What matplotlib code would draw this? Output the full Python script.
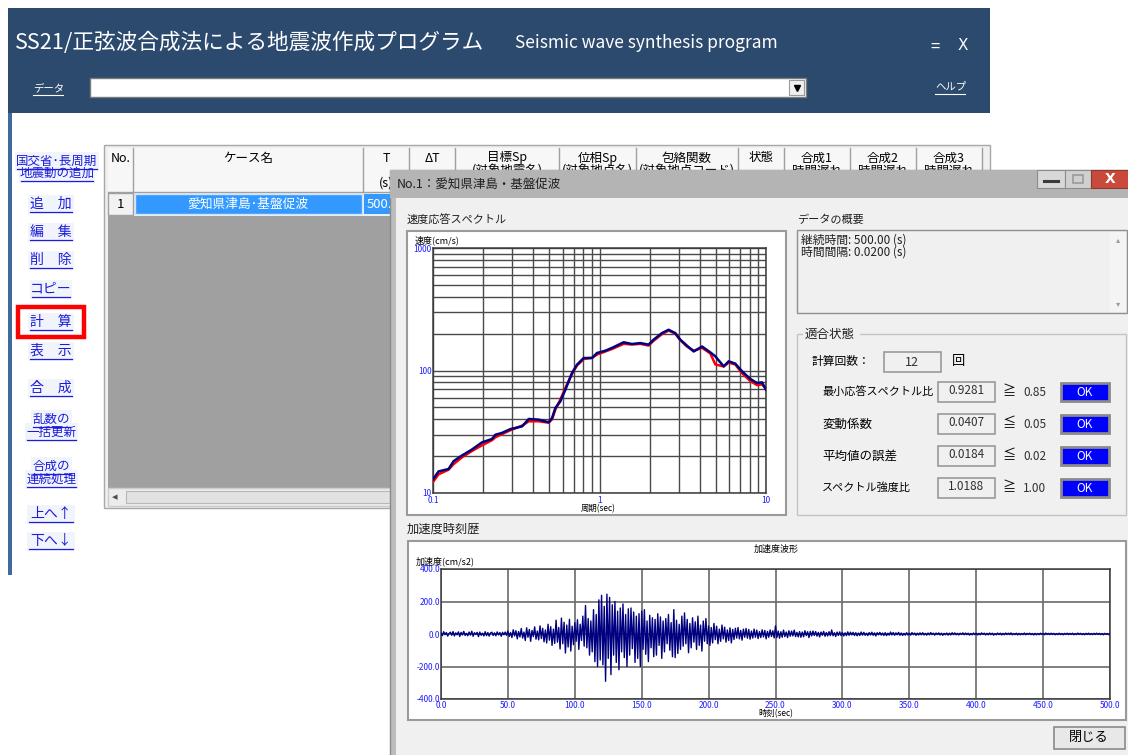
import numpy as np
import matplotlib.pyplot as plt
from matplotlib.patches import Rectangle
from matplotlib.ticker import NullFormatter

plt.rcParams['font.family'] = ['Noto Sans CJK JP', 'DejaVu Sans']

W, H = 1128, 755

# 速度応答スペクトル: 周期 (sec) と速度 (cm/s)
periods = [0.1, 0.108, 0.124, 0.133, 0.149, 0.171, 0.197, 0.226, 0.237, 0.259,
           0.291, 0.343, 0.376, 0.431, 0.495, 0.519, 0.543, 0.582, 0.624, 0.684,
           0.733, 0.804, 0.902, 0.966, 1.084, 1.19, 1.397, 1.567, 1.758, 1.972,
           2.113, 2.371, 2.6, 2.851, 3.055, 3.35, 3.68, 4.13, 4.63, 4.96,
           5.57, 5.97, 6.54, 7.18, 8.05, 8.83, 9.46, 10]
sv_target = [12.3, 14.2, 15.5, 17.2, 19.5, 22, 24.5, 27, 28.5, 30.2,
             32.5, 35.5, 38.5, 38.5, 37.5, 40, 48, 58, 72, 94,
             110, 124, 127, 135, 143, 150, 165, 163, 165, 160,
             175, 198, 212, 200, 177, 157, 145, 153, 138, 112,
             108, 116, 112, 95, 82, 76, 77, 71]
sv_synth = [12.9, 15, 15.7, 18.2, 20.2, 22.6, 25.9, 27.6, 29.9, 30.9,
            33.2, 35, 40.2, 39.7, 37.8, 40.9, 49.4, 56, 69.8, 95.5,
            111.7, 126.5, 126.5, 139, 145, 153, 170, 164.5, 167.5, 162.5,
            178.6, 202, 215, 202, 178.6, 159.6, 143, 157, 140.6, 130.6,
            108, 118.8, 113.8, 98.4, 85.3, 79, 80, 69.8]

# 加速度波形: 1秒ごとの読み取りピーク値 (cm/s2)
acc_dt = 1.0
acc_peaks = [6, -10, 14, -4, 9, -13, 3, 11, -8, 15,
             -12, 7, -5, 13, -15, 10, -6, 16, -9, 4,
             -11, 12, -7, 17, -14, 8, -3, 10, -16, 12,
             -8, 5, -12, 14, -10, 9, -13, 6, 11, -9,
             7, -11, 13, -6, 9, -14, 10, -5, 12, -8,
             18, -15, 9, -22, 26, -12, 20, -30, 15, -18,
             34, -25, 12, -40, 38, -20, 28, -45, 22, -16,
             44, -32, 18, -36, 50, -28, 35, -48, 25, -55,
             60, -38, 45, -70, 30, -58, 85, -50, 40, -92,
             98, -60, 72, -117, 55, -80, 90, -105, 48, -66,
             70, -45, 88, -95, 60, -40, 110, -75, 175, -85,
             95, -130, 80, -110, 150, -170, 120, -200, 210, -160,
             238, -190, 170, -291, 245, -150, 225, -250, 180, -130,
             200, -175, 140, -220, 160, -110, 185, -145, 120, -200,
             155, -130, 160, -90, 135, -175, 110, -150, 125, -200,
             140, -95, 150, -125, 80, -170, 115, -85, 100, -140,
             90, -130, 125, -70, 105, -150, 80, -110, 95, -60,
             120, -100, 70, -140, 150, -145, 85, -120, 60, -95,
             110, -75, 130, -60, 90, -115, 65, -85, 100, -50,
             75, -95, 110, -70, 55, -105, 80, -45, 95, -60,
             50, -70, 40, -55, 65, -35, 48, -60, 30, -45,
             55, -30, 42, -50, 25, -40, 38, -55, 28, -34,
             35, -25, 40, -30, 22, -38, 30, -20, 34, -26,
             28, -32, 18, -25, 30, -20, 24, -28, 15, -22,
             26, -18, 22, -30, 16, -20, 25, -15, 20, -24,
             50, -22, 18, -26, 14, -20, 24, -16, 12, -22,
             20, -14, 18, -12, 24, -16, 10, -18, 15, -20,
             12, -17, 20, -10, 14, -22, 16, -12, 18, -9,
             15, -13, 10, -18, 12, -8, 16, -14, 9, -12,
             14, -10, 25, -11, 8, -15, 12, -9, 13, -10,
             9, -12, 7, -10, 13, -8, 11, -6, 10, -9,
             8, -11, 6, -9, 12, -7, 10, -8, 5, -10,
             9, -6, 11, -8, 7, -12, 8, -5, 10, -7,
             6, -9, 8, -10, 5, -7, 12, -6, 9, -8,
             7, -5, 10, -8, 6, -9, 4, -7, 8, -6,
             5, -7, 9, -4, 6, -8, 5, -6, 7, -5,
             8, -6, 4, -7, 6, -5, 9, -4, 5, -7,
             6, -4, 7, -6, 5, -8, 4, -5, 6, -7,
             5, -6, 8, -4, 7, -5, 4, -6, 5, -3,
             7, -5, 6, -4, 5, -7, 3, -5, 6, -4,
             5, -6, 4, -5, 7, -3, 5, -6, 4, -5,
             6, -4, 5, -7, 3, -5, 6, -4, 5, -6,
             4, -5, 6, -3, 5, -4, 7, -5, 3, -4,
             5, -6, 4, -5, 3, -4, 6, -5, 4, -3,
             5, -4, 3, -6, 4, -5, 3, -4, 5, -3,
             4, -5, 6, -3, 4, -4, 5, -3, 4, -5,
             3, -4, 5, -4, 3, -5, 4, -3, 5, -4,
             4, -3, 5, -5, 3, -4, 6, -3, 4, -4,
             3, -5, 4, -3, 5, -4, 3, -4, 4, -3,
             5, -3, 4, -4, 3, -5, 4, -3, 3, -4,
             2]

spec_xticks = [0.1, 1, 10]
spec_xlabels = ['0.1', '1', '10']
spec_yticks = [10, 100, 1000]
spec_ylabels = ['10', '100', '1000']
acc_xticks = [0, 50, 100, 150, 200, 250, 300, 350, 400, 450, 500]
acc_yticks = [-400, -200, 0, 200, 400]

# 左メニュー: (行テキスト, y, 下線 x0, x1, 文字サイズ)
menu_items = [
    ('国交省･長周期', 161, 17, 97, 9), ('地震動の追加', 173, 21, 93, 9),
    ('追　加', 204, 30, 72, 10), ('編　集', 232, 30, 72, 10),
    ('削　除', 260, 30, 72, 10), ('コピー', 289, 32, 70, 10),
    ('計　算', 322, 30, 72, 10), ('表　示', 351, 30, 72, 10),
    ('合　成', 388, 30, 72, 10),
    ('乱数の', 419, 33, 70, 9), ('一括更新', 432, 27, 76, 9),
    ('合成の', 466, 33, 70, 9), ('連続処理', 479, 27, 76, 9),
    ('上へ↑', 514, 29, 73, 10), ('下へ↓', 541, 29, 73, 10),
]

table_cols = [('No.', '', 108, 133), ('ケース名', '', 133, 363), ('T', '(s)', 363, 409),
              ('ΔT', '', 409, 455), ('目標Sp', '(対象地震名)', 455, 559),
              ('位相Sp', '(対象地点名)', 559, 636), ('包絡関数', '(対象地点コード)', 636, 738),
              ('状態', '', 738, 784), ('合成1', '時間遅れ', 784, 850),
              ('合成2', '時間遅れ', 850, 916), ('合成3', '時間遅れ', 916, 982)]

case_name = '愛知県津島･基盤促波'
summary_lines = ['継続時間: 500.00 (s)', '時間間隔: 0.0200 (s)']
calc_count = '12'
check_rows = [('最小応答スペクトル比', '0.9281', '≧', '0.85', 8),
              ('変動係数', '0.0407', '≦', '0.05', 9),
              ('平均値の誤差', '0.0184', '≦', '0.02', 9),
              ('スペクトル強度比', '1.0188', '≧', '1.00', 8)]
check_y = [392, 424, 456, 488]

fig = plt.figure(figsize=(W / 100, H / 100), dpi=100)
fig.patch.set_facecolor('white')
ui = fig.add_axes([0, 0, 1, 1])
ui.set_xlim(0, W)
ui.set_ylim(H, 0)
ui.axis('off')


def box(x0, y0, x1, y1, fc, ec='none', lw=1.0, z=1):
    ui.add_patch(Rectangle((x0, y0), x1 - x0, y1 - y0, facecolor=fc,
                           edgecolor=ec, linewidth=lw, zorder=z))


def px_axes(x0, y0, x1, y1):
    return fig.add_axes([x0 / W, 1 - y1 / H, (x1 - x0) / W, (y1 - y0) / H])


# ---- メインウィンドウ ----
box(8, 8, 990, 113, '#2c4a6e')
box(8, 113, 12, 575, '#3f6a9c')
ui.text(15, 43, 'SS21/正弦波合成法による地震波作成プログラム', color='white',
        fontsize=15.6, va='center', zorder=2)
ui.text(515, 43, 'Seismic wave synthesis program', color='white',
        fontsize=12.5, va='center', zorder=2)
ui.text(935, 47, '=', color='white', fontsize=12, va='center', ha='center', zorder=2)
ui.text(963, 46, 'X', color='white', fontsize=11, va='center', ha='center', zorder=2,
        family='DejaVu Sans')
ui.text(33, 88, 'データ', color='white', fontsize=7.5, va='center', zorder=2)
ui.plot([33, 63], [95, 95], color='white', lw=0.8, zorder=2)
ui.text(935, 87, 'ヘルプ', color='white', fontsize=7.5, va='center', zorder=2)
ui.plot([935, 965], [94, 94], color='white', lw=0.8, zorder=2)
box(90, 78, 806, 97, 'white', '#7a7a7a', 1, 2)
box(789, 80, 804, 95, '#f0f0f0', '#9a9a9a', 0.8, 3)
ui.plot([797], [88], marker='v', color='black', ms=4, zorder=4)

for txt, y, x0, x1, fs in menu_items:
    box(x0 - 2, y - 9, x1 + 2, y + 10, '#f1f5fb', z=2)
    ui.text((x0 + x1) / 2, y, txt, color='#1c1cdc', fontsize=fs,
            ha='center', va='center', zorder=3)
    ui.plot([x0, x1], [y + 7.5, y + 7.5], color='#1c1cdc', lw=0.9, zorder=3)
ui.add_patch(Rectangle((18, 307), 66, 30, facecolor='none', edgecolor='#ff0000',
                       linewidth=3.2, zorder=4))

# 一覧表
box(104, 145, 990, 508, '#f0f0f0', '#a8a8a8', 1, 2)
box(108, 148, 982, 192, '#f7f7f7', z=2)
for name, sub, x0, x1 in table_cols:
    ui.plot([x1, x1], [148, 192], color='#a0a0a0', lw=1, zorder=3)
    ui.text((x0 + x1) / 2, 158, name, fontsize=9, ha='center', va='center', zorder=3)
    if sub:
        ui.text((x0 + x1) / 2, 171 if sub != '(s)' else 183, sub, fontsize=9,
                ha='center', va='center', zorder=3)
ui.plot([108, 982], [192, 192], color='#a0a0a0', lw=1, zorder=3)
box(108, 193, 133, 215, '#f2f2f2', '#a0a0a0', 1, 3)
ui.text(120, 204, '1', fontsize=9.5, ha='center', va='center', zorder=4)
box(135, 194, 362, 214, '#3399ff', '#cfe4ff', 1, 3)
ui.text(248, 204, case_name, color='white', fontsize=9.2, ha='center', va='center', zorder=4)
box(364, 194, 409, 214, '#3399ff', z=3)
ui.text(367, 204, '500.00', color='white', fontsize=9.5, va='center', zorder=4)
box(108, 216, 985, 488, '#a0a0a0', z=3)
box(108, 488, 985, 506, '#ececec', '#cccccc', 1, 3)
ui.text(115, 497, '◂', fontsize=8, color='#505050', ha='center', va='center', zorder=4,
        family='DejaVu Sans')
box(126, 491, 900, 503, '#e2e2e2', '#b8b8b8', 0.8, 4)

# ---- ダイアログ ----
box(390, 170, 1130, 756, '#bcbcbc', '#8a8a8a', 1, 10)
box(390, 170, 1130, 198, '#b4b4b4', z=11)
ui.text(397, 184, 'No.1：' + case_name.replace('･', '・'), fontsize=9, color='#202020',
        va='center', zorder=12)
box(1037, 170, 1065, 188, '#d8d8d8', '#8c8c8c', 0.8, 12)
ui.plot([1044, 1058], [181, 181], color='#3a3a3a', lw=2.2, zorder=13)
box(1065, 170, 1091, 188, '#d0d0d0', '#8c8c8c', 0.8, 12)
box(1073, 175, 1083, 183, 'none', '#9a9a9a', 1.2, 13)
box(1091, 170, 1130, 188, '#c9493a', '#8c3a30', 0.8, 12)
ui.text(1110, 179, 'X', color='white', fontsize=10, fontweight='bold', ha='center',
        va='center', zorder=13, family='DejaVu Sans')
box(396, 198, 1130, 756, '#f0f0f0', z=11)

ui.text(407, 220, '速度応答スペクトル', fontsize=8, color='#202020', va='center', zorder=12)
box(407, 231, 786, 515, 'white', '#9a9a9a', 1.5, 12)
ui.text(415, 240, '速度(cm/s)', fontsize=6.5, va='center', zorder=13)
ui.text(598, 509, '周期(sec)', fontsize=6, ha='center', va='center', zorder=13)

ui.text(797, 220, 'データの概要', fontsize=8, color='#202020', va='center', zorder=12)
box(797, 230, 1127, 313, '#f0f0f0', '#8f8f8f', 1, 12)
box(1110, 232, 1126, 312, '#f4f4f4', z=13)
ui.text(1118, 240, '▴', fontsize=6, color='#9a9a9a', ha='center', va='center', zorder=14,
        family='DejaVu Sans')
ui.text(1118, 304, '▾', fontsize=6, color='#9a9a9a', ha='center', va='center', zorder=14,
        family='DejaVu Sans')
for i, line in enumerate(summary_lines):
    ui.text(801, 240 + 12 * i, line, fontsize=8.5, color='#202020', va='center', zorder=13)

box(797, 334, 1126, 515, 'none', '#c4c4c4', 1, 12)
box(803, 326, 860, 342, '#f0f0f0', z=13)
ui.text(805, 334, '適合状態', fontsize=9, color='#202020', va='center', zorder=14)
ui.text(812, 361, '計算回数：', fontsize=8.5, va='center', zorder=13)
box(884, 352, 941, 372, '#f0f0f0', '#9a9a9a', 1.2, 13)
ui.text(912, 362, calc_count, fontsize=9, ha='center', va='center', color='#303030', zorder=14)
ui.text(952, 361, '回', fontsize=9.5, va='center', zorder=13)
for (label, val, sym, lim, fs), y in zip(check_rows, check_y):
    ui.text(822, y, label, fontsize=fs, va='center', zorder=13)
    box(938, y - 10, 995, y + 10, '#f0f0f0', '#9a9a9a', 1.2, 13)
    ui.text(966, y - 1, val, fontsize=8.5, ha='center', va='center', color='#303030', zorder=14)
    ui.text(1009, y, sym, fontsize=9.5, ha='center', va='center', zorder=13)
    ui.text(1035, y, lim, fontsize=8.5, ha='center', va='center', color='#303030', zorder=13)
    box(1061, y - 9, 1109, y + 9, '#0000ff', '#8a8a8a', 2, 13)
    ui.text(1085, y + 1, 'OK', fontsize=8.5, color='white', ha='center', va='center', zorder=14)

ui.text(407, 529, '加速度時刻歴', fontsize=8.8, color='#202020', va='center', zorder=12)
box(408, 541, 1126, 720, 'white', '#9a9a9a', 1.5, 12)
ui.text(776, 549, '加速度波形', fontsize=6.5, ha='center', va='center', zorder=13)
ui.text(416, 561, '加速度(cm/s2)', fontsize=6.5, va='center', zorder=13)
ui.text(776, 714, '時刻(sec)', fontsize=6, ha='center', va='center', zorder=13)
box(1054, 727, 1125, 749, '#e8e8e8', '#8a8a8a', 1.2, 13)
ui.text(1089, 738, '閉じる', fontsize=9.5, ha='center', va='center', zorder=14)

# ---- 速度応答スペクトル ----
ax1 = px_axes(433, 248, 766, 493)
ax1.set_xscale('log')
ax1.set_yscale('log')
ax1.plot(periods, sv_target, color='#ff0000', lw=1.8, zorder=3)
ax1.plot(periods, sv_synth, color='#000080', lw=1.8, zorder=4)
ax1.set_xlim(0.1, 10)
ax1.set_ylim(10, 1000)
ax1.set_xticks(spec_xticks, spec_xlabels)
ax1.set_yticks(spec_yticks, spec_ylabels)
ax1.xaxis.set_minor_formatter(NullFormatter())
ax1.yaxis.set_minor_formatter(NullFormatter())
ax1.grid(which='both', color='#4a4a4a', lw=1.0)
ax1.set_axisbelow(True)
ax1.tick_params(which='both', length=0, labelsize=6, labelcolor='#1f1fff', pad=1)
ax1.tick_params(axis='x', pad=2.5)
for s in ax1.spines.values():
    s.set_color('#3a3a3a')
    s.set_linewidth(1.1)

# ---- 加速度時刻歴 ----
ax2 = px_axes(441, 569, 1110, 699)
t = np.arange(len(acc_peaks)) * acc_dt
ax2.plot(t, acc_peaks, color='#000080', lw=1.0, zorder=3)
ax2.set_xlim(0, 500)
ax2.set_ylim(-400, 400)
ax2.set_xticks(acc_xticks, [f'{v:.1f}' for v in acc_xticks])
ax2.set_yticks(acc_yticks, [f'{v:.1f}' for v in acc_yticks])
ax2.grid(color='#6a6a6a', lw=1.2)
ax2.set_axisbelow(True)
ax2.tick_params(length=0, labelsize=6, labelcolor='#1f1fff', pad=0.5)
ax2.tick_params(axis='x', pad=1.5)
for s in ax2.spines.values():
    s.set_color('#3a3a3a')
    s.set_linewidth(1.1)

fig.savefig('out.png', dpi=100)
